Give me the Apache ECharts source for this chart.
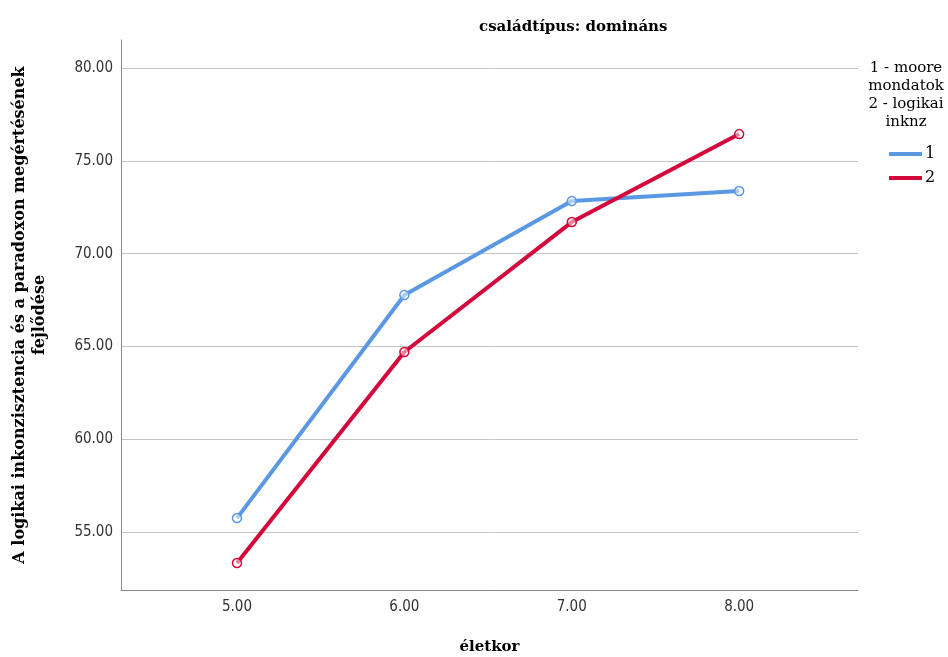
<!DOCTYPE html>
<html><head><meta charset="utf-8">
<script src="https://cdn.jsdelivr.net/npm/echarts@6/dist/echarts.min.js"></script>
<style>html,body{margin:0;padding:0;background:#fff}#c{width:948px;height:657px}</style>
</head><body><div id="c"></div>
<script>
const ages = [5, 6, 7, 8];
const xTicks = [5, 6, 7, 8];
const yTicks = [55, 60, 65, 70, 75, 80];
const seriesNames = ['1', '2'];
const series1 = [55.75, 67.77, 72.83, 73.37];
const series2 = [53.33, 64.70, 71.70, 76.44];
const colors = ['#5a98e3', '#d3083b'];

const serif = 'DejaVu Serif';
const cond = '"DejaVu Sans Condensed", "DejaVu Sans"';
const chart = echarts.init(document.getElementById('c'), null, {renderer: 'canvas'});
const mk = (name, vals, color) => ({
  name, type: 'line',
  data: ages.map((a, i) => [a, vals[i]]),
  lineStyle: {width: 4, color},
  itemStyle: {color: 'rgba(255,255,255,0.5)', borderColor: color, borderWidth: 1.5},
  symbol: 'circle', symbolSize: 9, showSymbol: true,
  emphasis: {disabled: true}, z: 3
});
chart.setOption({
  animation: false,
  grid: {left: 121, right: 90, top: 40, bottom: 67, containLabel: false, outerBoundsMode: 'none'},
  title: {text: 'családtípus: domináns', left: 474, top: 15,
    textStyle: {fontFamily: serif, fontWeight: 'bold', fontSize: 15, color: '#000'}},
  legend: {
    orient: 'vertical', left: 884, top: 141, itemWidth: 33, itemHeight: 4, itemGap: 8,
    icon: 'rect', itemStyle: {borderWidth: 0},
    data: seriesNames.map((n, i) => ({name: n, itemStyle: {color: colors[i], borderWidth: 0}})),
    textStyle: {fontFamily: serif, fontSize: 16, color: '#000', padding: [0, 0, 0, -2]}
  },
  graphic: [{
    type: 'text', x: 906, y: 59,
    style: {text: '1 - moore\nmondatok\n2 - logikai\ninknz', font: '15px "DejaVu Serif"',
      lineHeight: 18, fill: '#000', align: 'center'}
  }],
  xAxis: {
    type: 'value', min: 4.307, max: 8.71,
    name: 'életkor', nameLocation: 'middle', nameGap: 50,
    nameTextStyle: {fontFamily: serif, fontWeight: 'bold', fontSize: 15, color: '#000'},
    axisLine: {show: true, lineStyle: {color: '#888', width: 1}},
    axisTick: {show: false, customValues: xTicks},
    axisLabel: {customValues: xTicks, formatter: v => v.toFixed(2), fontFamily: cond, fontSize: 15, color: '#333', margin: 10},
    splitLine: {show: false}
  },
  yAxis: {
    type: 'value', min: 51.875, max: 81.51,
    name: 'A logikai inkonzisztencia és a paradoxon megértésének\nfejlődése',
    nameLocation: 'middle', nameGap: 71, nameRotate: 90,
    nameTextStyle: {fontFamily: serif, fontWeight: 'bold', fontSize: 16, color: '#000', lineHeight: 20},
    axisLine: {show: true, lineStyle: {color: '#888', width: 1}},
    axisTick: {show: false, customValues: yTicks},
    axisLabel: {customValues: yTicks, formatter: v => v.toFixed(2), fontFamily: cond, fontSize: 15, color: '#333', margin: 8},
    splitLine: {show: true, lineStyle: {color: '#c4c4c4', width: 1}}
  },
  series: [mk(seriesNames[0], series1, colors[0]), mk(seriesNames[1], series2, colors[1])]
});
</script></body></html>
